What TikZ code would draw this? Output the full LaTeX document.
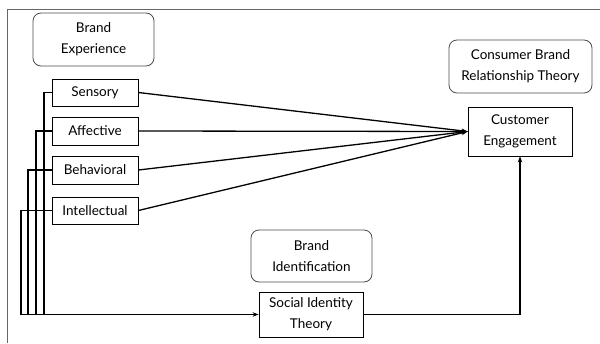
\documentclass[tikz,border=0pt]{standalone}
\usepackage{fontspec}
\setmainfont{Lato}
\usetikzlibrary{arrows.meta}
\begin{document}
\begin{tikzpicture}[x=1pt,y=-1pt,
  every node/.style={font=\fontsize{13.5}{21}\selectfont, align=center, inner sep=0pt},
  boxn/.style={draw=black, line width=0.8pt, rectangle},
  rbox/.style={draw=black!70, line width=0.8pt, rounded corners=8pt},
  conn/.style={line width=1.3pt, black},
  arr/.style={conn, -{Stealth[length=6pt,width=4.5pt]}},
  frame/.style={draw=black!60, line width=1pt}]
\useasboundingbox (0,0) rectangle (600,343);
\draw[frame] (7,343) -- (7,9) -- (600,9);
\node[rbox, minimum width=121pt, minimum height=53pt] (bexp) at (93.5,39.5) {Brand\\Experience};
\node[boxn, minimum width=86pt, minimum height=27pt] (sens) at (95,92.5) {Sensory};
\node[boxn, minimum width=86pt, minimum height=28pt] (aff) at (95,131) {Affective};
\node[boxn, minimum width=86pt, minimum height=28pt] (beh) at (95,170) {Behavioral};
\node[boxn, minimum width=86pt, minimum height=27pt] (intel) at (95,210.5) {Intellectual};
\node[rbox, minimum width=121pt, minimum height=52pt] (bid) at (311.5,256) {Brand\\Identification};
\node[boxn, minimum width=104pt, minimum height=45pt] (sit) at (311,314.5) {Social Identity\\Theory};
\node[rbox, minimum width=143pt, minimum height=53pt] (cbrt) at (520.5,66.5) {Consumer Brand\\Relationship Theory};
\node[boxn, minimum width=104pt, minimum height=49pt] (ce) at (520,131.5) {Customer\\Engagement};
\foreach \n in {sens,aff,beh,intel} \draw[arr] (\n.east) -- (ce.west);
\coordinate (c1) at (44,314.5);
\coordinate (c2) at (36,314.5);
\coordinate (c3) at (28,314.5);
\coordinate (c4) at (21,314.5);
\draw[conn] (sens.west) -| (c1);
\draw[conn] (aff.west) -| (c2);
\draw[conn] (beh.west) -| (c3);
\draw[conn] (intel.west) -| (c4);
\draw[arr] (c4) -- (sit.west);
\draw[arr] (sit.east) -| (ce.south);
\end{tikzpicture}
\end{document}
